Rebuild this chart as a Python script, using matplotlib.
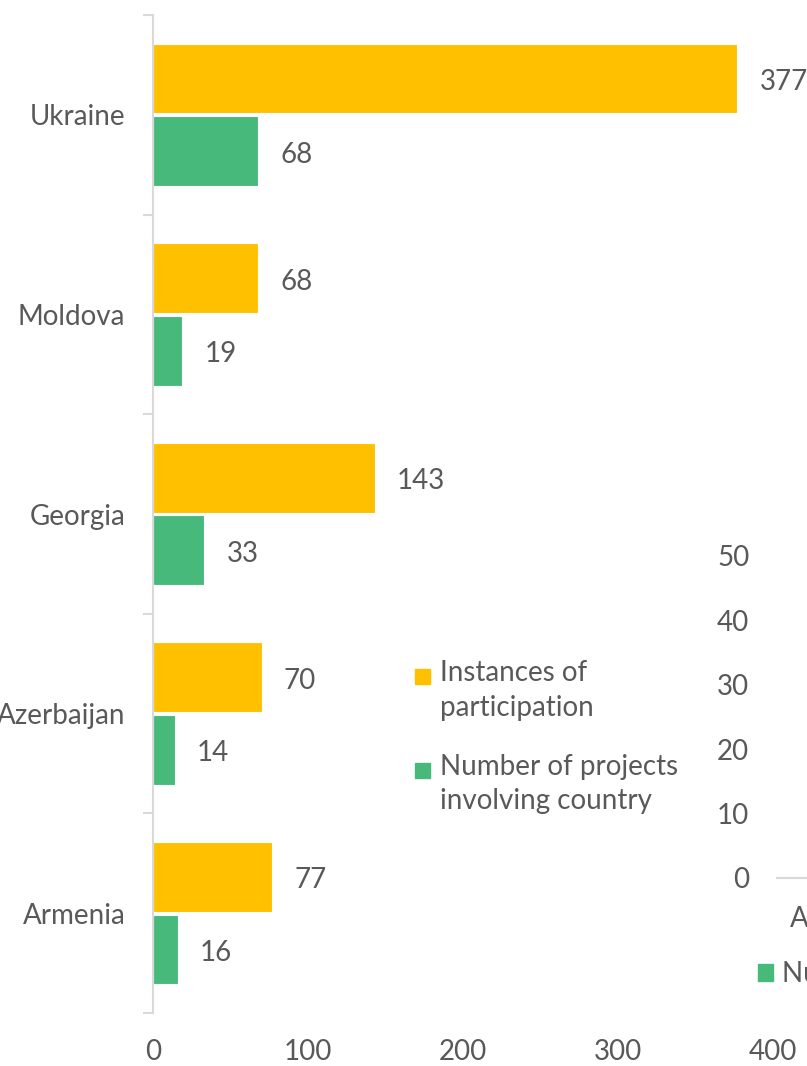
import matplotlib
matplotlib.use("Agg")
import matplotlib.pyplot as plt
import numpy as np
from matplotlib.patches import Patch, Rectangle
from matplotlib.legend_handler import HandlerPatch

countries = ["Ukraine", "Moldova", "Georgia", "Azerbaijan", "Armenia"]
participation = [377, 68, 143, 70, 77]
projects = [68, 19, 33, 14, 16]
x_ticks = [0, 100, 200, 300, 400]
side_ticks = [0, 10, 20, 30, 40, 50]

YELLOW = "#FFC000"
GREEN = "#47BA7B"
TEXT = "#595959"
GRID = "#D9D9D9"

plt.rcParams["font.family"] = ["Lato", "DejaVu Sans"]
FS = 20

W, H = 807, 1066
fig = plt.figure(figsize=(W / 100, H / 100), dpi=100)

# main chart
ax = fig.add_axes([153 / W, 1 - 1013 / H, 620 / W, (1013 - 15) / H])
y = np.arange(len(countries))
bh = 0.35
b1 = ax.barh(y - 0.182, participation, height=bh, color=YELLOW, edgecolor="white", linewidth=0.8)
b2 = ax.barh(y + 0.182, projects, height=bh, color=GREEN, edgecolor="white", linewidth=0.8)

for bars, vals in [(b1, participation), (b2, projects)]:
    for bar, v in zip(bars, vals):
        ax.annotate(f"{v}", (bar.get_width(), bar.get_y() + bar.get_height() / 2),
                    xytext=(16, -2.5), textcoords="offset points",
                    ha="left", va="center", fontsize=FS, color=TEXT)

ax.set_ylim(len(countries) - 0.5, -0.5)
ax.set_xlim(0, 400)
ax.set_yticks(y)
ax.set_yticklabels(countries)
ax.set_yticks(np.arange(-0.5, len(countries), 1), minor=True)
ax.tick_params(axis="y", which="major", length=0, pad=20, labelsize=FS, labelcolor=TEXT)
ax.tick_params(axis="y", which="minor", length=7, width=1.5, color=GRID)
ax.set_xticks(x_ticks)
ax.tick_params(axis="x", length=0, pad=19, labelsize=FS, labelcolor=TEXT)
for s in ["top", "right", "bottom"]:
    ax.spines[s].set_visible(False)
ax.spines["left"].set_color(GRID)
ax.spines["left"].set_linewidth(1.5)


def top_square(legend, orig_handle, xdescent, ydescent, width, height, fontsize):
    s = 0.55 * fontsize
    return Rectangle((-xdescent, -ydescent + height - s), s, s)


handles = [Patch(color=YELLOW), Patch(color=GREEN)]
leg = ax.legend(handles, ["Instances of\nparticipation", "Number of projects\ninvolving country"],
                loc="upper left", bbox_to_anchor=(404 / W, 1 - 649 / H), bbox_transform=fig.transFigure,
                frameon=False, fontsize=FS, labelcolor=TEXT, handlelength=0.55, handleheight=2.2,
                handletextpad=0.35, labelspacing=1.2, borderaxespad=0,
                handler_map={Patch: HandlerPatch(patch_func=top_square)})
for t in leg.get_texts():
    t.set_linespacing(1.4)

# neighbouring chart, mostly outside the crop
ax2 = fig.add_axes([777 / W, 1 - 878 / H, 0.4, (878 - 556) / H])
ax2.set_ylim(0, 50)
ax2.set_yticks(side_ticks)
ax2.set_xlim(0, 1)
ax2.set_xticks([0.2])
ax2.set_xticklabels(["Armenia"])
ax2.tick_params(axis="y", length=0, pad=20, labelsize=FS, labelcolor=TEXT)
ax2.tick_params(axis="x", length=0, pad=20, labelsize=FS, labelcolor=TEXT)
for s in ["top", "right", "left"]:
    ax2.spines[s].set_visible(False)
ax2.spines["bottom"].set_color(GRID)
ax2.spines["bottom"].set_linewidth(1.5)
ax2.legend([Patch(color=GREEN)], ["Number of projects involving country"],
           loc="upper left", bbox_to_anchor=(747 / W, 1 - 950 / H), bbox_transform=fig.transFigure,
           frameon=False, fontsize=FS, labelcolor=TEXT, handlelength=0.55, handleheight=0.55,
           handletextpad=0.3, borderaxespad=0)

fig.savefig("out.png", dpi=100)
